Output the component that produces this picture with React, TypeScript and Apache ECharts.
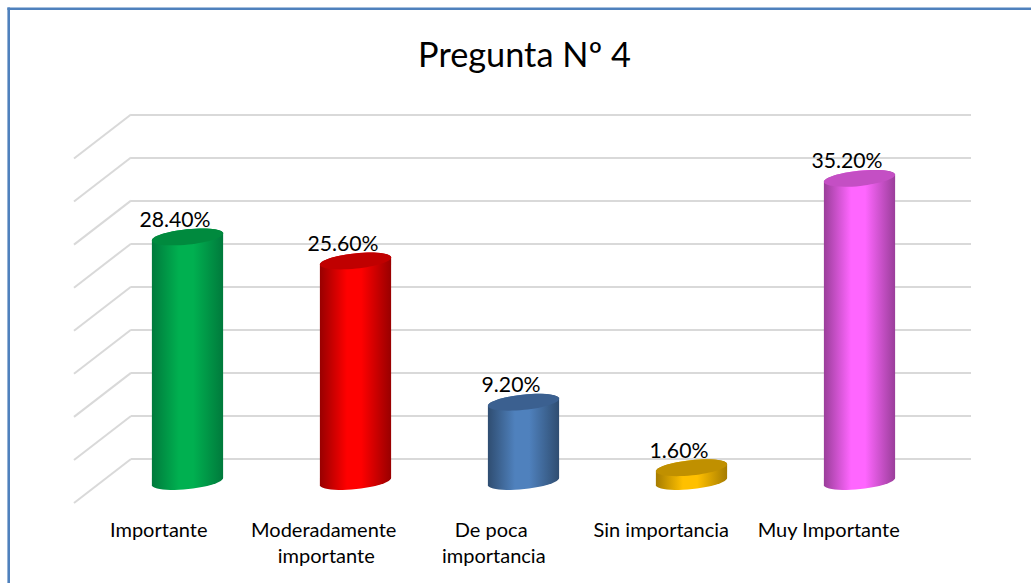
import React, { useEffect, useRef } from "react";
import * as echarts from "echarts";

const TITLE = "Pregunta Nº 4";
const categories = ["Importante", "Moderadamente importante", "De poca importancia", "Sin importancia", "Muy Importante"];
const values = [28.4, 25.6, 9.2, 1.6, 35.2];
const tickValues = [0, 5, 10, 15, 20, 25, 30, 35, 40];
const bodyColors = [
  ["#007a3c", "#00b050"],
  ["#980000", "#ff0000"],
  ["#2f4d71", "#4f81bd"],
  ["#a67c00", "#ffc000"],
  ["#9a3e9a", "#ff66ff"],
];
const capColors = ["#008a3e", "#c00000", "#3b6090", "#c09000", "#c44fc4"];

const DEPTH_X = 57;
const DEPTH_Y = 44;
const BAR_SHIFT_X = 27.5;
const BAR_SHIFT_Y = 22.5;
const RX = 35.8;
const RY = 7.6;
const TILT = (6 * Math.PI) / 180;
const ARC_STEPS = 24;

function ellipsePoint(cx: number, cy: number, a: number): number[] {
  const ex = RX * Math.cos(a);
  const ey = RY * Math.sin(a);
  return [cx + ex * Math.cos(TILT) + ey * Math.sin(TILT), cy - ex * Math.sin(TILT) + ey * Math.cos(TILT)];
}

function renderBar(params: any, api: any) {
  const i = api.value(0);
  const v = api.value(1);
  const base = api.coord([i, 0]);
  const top = api.coord([i, v]);
  const cx = base[0] - BAR_SHIFT_X;
  const yb = base[1] + BAR_SHIFT_Y;
  const yt = top[1] + BAR_SHIFT_Y;
  const pts: number[][] = [];
  // lower half of the foot, left to right, then upper half of the head, right to left
  for (let k = 0; k <= ARC_STEPS; k++) pts.push(ellipsePoint(cx, yb, Math.PI - (k / ARC_STEPS) * Math.PI));
  for (let k = 0; k <= ARC_STEPS; k++) pts.push(ellipsePoint(cx, yt, -(k / ARC_STEPS) * Math.PI));
  const [dark, light] = bodyColors[i];
  return {
    type: "group",
    children: [
      {
        type: "polygon",
        shape: { points: pts },
        style: {
          fill: new echarts.graphic.LinearGradient(0, 0, 1, 0, [
            { offset: 0, color: dark },
            { offset: 0.38, color: light },
            { offset: 0.58, color: light },
            { offset: 1, color: dark },
          ]),
        },
      },
      {
        type: "ellipse",
        shape: { cx: 0, cy: 0, rx: RX, ry: RY },
        x: cx,
        y: yt,
        rotation: TILT,
        style: { fill: capColors[i] },
      },
      {
        type: "text",
        x: cx - 12.5,
        y: yt - 18,
        style: {
          text: v.toFixed(2) + "%",
          fill: "#000",
          font: "21.2px Lato",
          align: "center",
          verticalAlign: "middle",
        },
      },
    ],
  };
}

function renderDiagonal(params: any, api: any) {
  const y = api.coord([0, api.value(0)])[1];
  const x = params.coordSys.x;
  return {
    type: "line",
    shape: { x1: x, y1: y, x2: x - DEPTH_X, y2: y + DEPTH_Y },
    style: { stroke: "#d9d9d9", lineWidth: 2 },
  };
}

export default function App() {
  const ref = useRef<HTMLDivElement>(null);
  useEffect(() => {
    const chart = echarts.init(ref.current!, undefined, { renderer: "svg" });
    chart.setOption({
      animation: false,
      backgroundColor: "#fff",
      title: {
        text: TITLE,
        left: 519.5,
        top: 31,
        textAlign: "center",
        textStyle: { fontFamily: "Lato", fontSize: 34.3, fontWeight: "normal", color: "#000" },
      },
      graphic: [
        {
          type: "line",
          shape: { x1: 8.7, y1: 7.4, x2: 8.7, y2: 583 },
          style: { stroke: "#4f81bd", lineWidth: 2.6 },
          z: 10,
        },
        {
          type: "line",
          shape: { x1: 7.4, y1: 8.7, x2: 1031, y2: 8.7 },
          style: { stroke: "#4f81bd", lineWidth: 2.6 },
          z: 10,
        },
      ],
      grid: [
        { left: 131, right: 60, top: 114.5, bottom: 124 },
        { left: 75, right: 118.5, top: 158.5, bottom: 80 },
      ],
      xAxis: [
        {
          type: "category",
          gridIndex: 0,
          data: categories,
          axisLine: { show: false },
          axisTick: { show: false },
          axisLabel: { show: false },
        },
        {
          type: "category",
          gridIndex: 1,
          data: categories,
          axisLine: { show: false },
          axisTick: { show: false },
          axisLabel: {
            show: true,
            interval: 0,
            margin: 13,
            color: "#000",
            fontFamily: "Lato",
            fontSize: 20,
            lineHeight: 26,
            width: 155,
            overflow: "break",
          },
        },
      ],
      yAxis: [
        {
          type: "value",
          gridIndex: 0,
          min: 0,
          max: 40,
          interval: 5,
          axisLine: { show: false },
          axisTick: { show: false },
          axisLabel: { show: false },
          splitLine: { show: true, lineStyle: { color: "#d9d9d9", width: 2 } },
        },
        {
          type: "value",
          gridIndex: 1,
          min: 0,
          max: 40,
          interval: 5,
          axisLine: { show: false },
          axisTick: { show: false },
          axisLabel: { show: false },
          splitLine: { show: false },
        },
      ],
      series: [
        {
          type: "custom",
          xAxisIndex: 0,
          yAxisIndex: 0,
          clip: false,
          silent: true,
          z: 1,
          renderItem: renderDiagonal,
          encode: { y: 0 },
          data: tickValues.map((t) => [t]),
        },
        {
          type: "custom",
          xAxisIndex: 0,
          yAxisIndex: 0,
          clip: false,
          silent: true,
          z: 3,
          renderItem: renderBar,
          encode: { x: 0, y: 1 },
          data: values.map((v, i) => [i, v]),
        },
      ],
    });
    return () => chart.dispose();
  }, []);
  return <div ref={ref} style={{ position: "absolute", left: 0, top: 0, width: 1031, height: 583 }} />;
}
